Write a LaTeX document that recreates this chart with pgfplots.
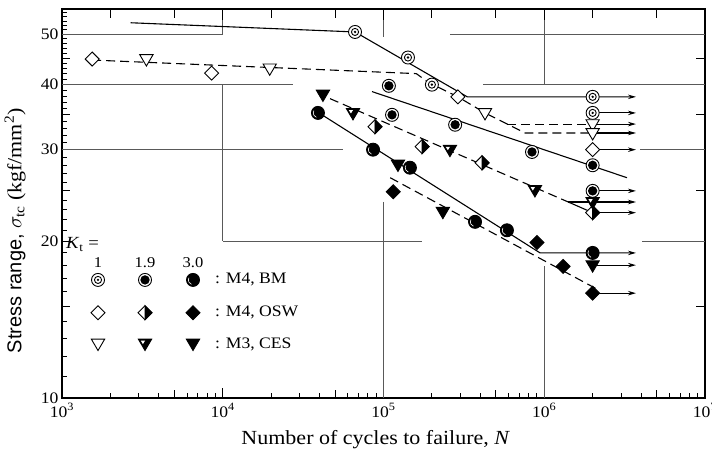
\documentclass[border=0pt]{standalone}
\usepackage{fontspec}
\setmainfont{Liberation Serif}[FakeStretch=1.1]
\newfontfamily\labelsans{Liberation Sans}
\usepackage{pgfplots}
\pgfplotsset{compat=1.18}
\usetikzlibrary{arrows.meta}

% --- plot marks: BM = circles, OSW = diamonds, CES = triangles; A: Kt=1, B: Kt=1.9, C: Kt=3.0
\newcommand\mpt[2]{\pgfpoint{#1\pgfplotmarksize}{#2\pgfplotmarksize}}
\newcommand\diamondpath{%
  \pgfpathmoveto{\mpt{0}{1}}\pgfpathlineto{\mpt{1}{0}}\pgfpathlineto{\mpt{0}{-1}}\pgfpathlineto{\mpt{-1}{0}}\pgfpathclose}
\newcommand\trianglepath{%
  \pgfpathmoveto{\mpt{-0.95}{0.62}}\pgfpathlineto{\mpt{0.95}{0.62}}\pgfpathlineto{\mpt{0}{-1}}\pgfpathclose}
\pgfdeclareplotmark{bmA}{%
  \pgfsetfillcolor{white}%
  \pgfpathcircle{\pgfpointorigin}{\pgfplotmarksize}\pgfusepath{fill,stroke}%
  \pgfpathcircle{\pgfpointorigin}{0.55\pgfplotmarksize}\pgfusepath{stroke}%
  \pgfsetfillcolor{black}%
  \pgfpathcircle{\pgfpointorigin}{0.2\pgfplotmarksize}\pgfusepath{fill}}
\pgfdeclareplotmark{bmB}{%
  \pgfsetfillcolor{white}%
  \pgfpathcircle{\pgfpointorigin}{\pgfplotmarksize}\pgfusepath{fill,stroke}%
  \pgfsetfillcolor{black}%
  \pgfpathcircle{\pgfpointorigin}{0.72\pgfplotmarksize}\pgfusepath{fill}}
\pgfdeclareplotmark{bmC}{%
  \pgfsetfillcolor{black}%
  \pgfpathcircle{\pgfpointorigin}{\pgfplotmarksize}\pgfusepath{fill,stroke}%
  \pgfscope\pgfsetstrokecolor{white}\pgfsetlinewidth{0.6pt}%
  \pgfpathmoveto{\pgfpointpolar{150}{0.72\pgfplotmarksize}}%
  \pgfpatharc{150}{250}{0.72\pgfplotmarksize}\pgfusepath{stroke}%
  \endpgfscope}
\pgfdeclareplotmark{oswA}{%
  \pgfsetfillcolor{white}\diamondpath\pgfusepath{fill,stroke}}
\pgfdeclareplotmark{oswB}{%
  \pgfsetfillcolor{white}\diamondpath\pgfusepath{fill,stroke}%
  \pgfsetfillcolor{black}%
  \pgfpathmoveto{\mpt{0}{1}}\pgfpathlineto{\mpt{1}{0}}\pgfpathlineto{\mpt{0}{-1}}\pgfpathclose
  \pgfusepath{fill,stroke}}
\pgfdeclareplotmark{oswC}{%
  \pgfsetfillcolor{black}\diamondpath\pgfusepath{fill,stroke}}
\pgfdeclareplotmark{cesA}{%
  \pgfsetfillcolor{white}\trianglepath\pgfusepath{fill,stroke}}
\pgfdeclareplotmark{cesB}{%
  \pgfsetfillcolor{black}\trianglepath\pgfusepath{fill,stroke}%
  \pgfsetfillcolor{white}%
  \pgfpathmoveto{\mpt{-0.6}{0.4}}\pgfpathlineto{\mpt{0.0}{0.4}}\pgfpathlineto{\mpt{-0.3}{-0.08}}\pgfpathclose
  \pgfusepath{fill}}
\pgfdeclareplotmark{cesC}{%
  \pgfsetfillcolor{black}\trianglepath\pgfusepath{fill,stroke}}

\newcommand\lmark[2][6.5pt]{\tikz[baseline=-0.6ex]{\pgfsetlinewidth{0.9pt}\pgfsetplotmarksize{#1}\pgfuseplotmark{#2}}}

\tikzset{
  fit line/.style={line width=1.1pt, black},
  fit dash/.style={line width=1.1pt, black, dash pattern=on 9pt off 5pt},
  runout/.style={line width=1.1pt, black, -{Stealth[length=8pt,width=4.5pt]}},
  partgrid/.style={line width=0.8pt, black!65},
  frametick/.style={line width=0.9pt, black},
}

\begin{document}
\begin{tikzpicture}
\begin{axis}[
  scale only axis, width=643pt, height=389pt,
  xmode=log, ymode=log,
  xmin=1e3, xmax=1e7, ymin=10, ymax=55.9,
  clip=false,
  axis line style={line width=1.2pt},
  tick style={line width=0.9pt, black},
  tick pos=left, tick align=inside,
  major tick length=10pt, minor tick length=5pt,
  xtick={1e3,1e4,1e5,1e6,1e7},
  xticklabels={10\textsuperscript{3},10\textsuperscript{4},10\textsuperscript{5},10\textsuperscript{6},10\textsuperscript{7}},
  minor xtick={2e3,3e3,4e3,5e3,6e3,7e3,8e3,9e3,2e4,3e4,4e4,5e4,6e4,7e4,8e4,9e4,
               2e5,3e5,4e5,5e5,6e5,7e5,8e5,9e5,2e6,3e6,4e6,5e6,6e6,7e6,8e6,9e6},
  extra x ticks={5e3,5e4,5e5,5e6}, extra x tick labels={},
  extra x tick style={major tick length=8pt},
  ytick={10,20,30,40,50}, yticklabels={10,20,30,40,50},
  minor ytick={11,12,13,14,15,16,17,18,19,21,22,23,24,25,26,27,28,29,
               31,32,33,34,35,36,37,38,39,41,42,43,44,45,46,47,48,49,51,52,53,54,55},
  extra y ticks={15,25,35,45}, extra y tick labels={},
  extra y tick style={major tick length=8pt},
  ticklabel style={font=\fontsize{16}{18}\selectfont},
  xticklabel style={yshift=-2pt},
  xlabel={Number of cycles to failure, \textit{N}},
  xlabel style={font=\fontsize{20}{22}\selectfont, at={(axis description cs:0.488,-0.108)}, anchor=center},
  ylabel={{\labelsans Stress range,} $\sigma_{\mathrm{tc}}$ (kgf/mm\textsuperscript{2})},
  ylabel style={font=\fontsize{20}{22}\selectfont, at={(axis description cs:-0.073,0.43)}, anchor=center},
]

% partial grid
\draw[partgrid] (axis cs:1e3,50) -- (axis cs:1e4,50);
\draw[partgrid] (axis cs:2.59e5,50) -- (axis cs:1e7,50);
\draw[partgrid] (axis cs:1e3,40) -- (axis cs:2.74e4,40);
\draw[partgrid] (axis cs:4.16e5,40) -- (axis cs:1e7,40);
\draw[partgrid] (axis cs:1e3,30) -- (axis cs:5.6e4,30);
\draw[partgrid] (axis cs:3.95e6,30) -- (axis cs:1e7,30);
\draw[partgrid] (axis cs:1e4,20) -- (axis cs:1.74e5,20);
\draw[partgrid] (axis cs:4.06e6,20) -- (axis cs:1e7,20);
\draw[partgrid] (axis cs:1e4,55.9) -- (axis cs:1e4,50);
\draw[partgrid] (axis cs:1e4,40) -- (axis cs:1e4,20);
\draw[partgrid] (axis cs:1e5,55.9) -- (axis cs:1e5,49.3);
\draw[partgrid] (axis cs:1e5,23.8) -- (axis cs:1e5,10);
\draw[partgrid] (axis cs:1e6,55.9) -- (axis cs:1e6,40);
\draw[partgrid] (axis cs:1e6,17.9) -- (axis cs:1e6,10);

% ticks on the top and right frame
\draw[frametick] (axis cs:2e3,55.9) -- (axis cs:2e3,53.7);
\draw[frametick] (axis cs:5e3,55.9) -- (axis cs:5e3,53.7);
\draw[frametick] (axis cs:1e4,55.9) -- (axis cs:1e4,53.2);
\draw[frametick] (axis cs:2e4,55.9) -- (axis cs:2e4,53.7);
\draw[frametick] (axis cs:5e4,55.9) -- (axis cs:5e4,53.7);
\draw[frametick] (axis cs:1e5,55.9) -- (axis cs:1e5,53.2);
\draw[frametick] (axis cs:2e5,55.9) -- (axis cs:2e5,53.7);
\draw[frametick] (axis cs:5e5,55.9) -- (axis cs:5e5,53.7);
\draw[frametick] (axis cs:1e6,55.9) -- (axis cs:1e6,53.2);
\draw[frametick] (axis cs:2e6,55.9) -- (axis cs:2e6,53.7);
\draw[frametick] (axis cs:5e6,55.9) -- (axis cs:5e6,53.7);
\draw[frametick] (axis cs:1e7,15) -- (axis cs:8.8e6,15);
\draw[frametick] (axis cs:1e7,25) -- (axis cs:8.8e6,25);
\draw[frametick] (axis cs:1e7,35) -- (axis cs:8.8e6,35);
\draw[frametick] (axis cs:1e7,45) -- (axis cs:8.8e6,45);

% S-N lines
\addplot[runout] coordinates {(2670,52.6) (66500,50.5) (332000,37.9) (3.72e6,37.9)};
\addplot[fit dash] coordinates {(1540,44.6) (160000,42.0) (190000,40.4) (290000,37.9) (428000,35.3) (759000,32.3) (2e6,32.3)};
\addplot[runout] coordinates {(2e6,32.3) (3.72e6,32.3)};
\addplot[fit dash] coordinates {(587000,33.6) (2e6,33.6)};
\addplot[runout] coordinates {(2e6,33.6) (3.72e6,33.6)};
\addplot[fit line] coordinates {(84800,38.8) (3.27e6,26.5)};
\addplot[fit dash] coordinates {(46500,37.6) (1.41e6,23.8)};
\addplot[runout] coordinates {(1.41e6,23.8) (3.72e6,23.8)};
\addplot[fit line] coordinates {(1.41e6,23.8) (2e6,22.7)};
\addplot[runout] coordinates {(39700,35.3) (942000,19.0) (3.72e6,19.0)};
\addplot[fit dash] coordinates {(110000,26.5) (2.2e6,16.1)};
% run-outs (no failure)
\addplot[runout] coordinates {(2e6,35.3) (3.72e6,35.3)};
\addplot[runout] coordinates {(2e6,30.0) (3.72e6,30.0)};
\addplot[runout] coordinates {(2e6,25.0) (3.72e6,25.0)};
\addplot[runout] coordinates {(2e6,22.7) (3.72e6,22.7)};
\addplot[runout] coordinates {(2e6,18.0) (3.72e6,18.0)};
\addplot[runout] coordinates {(2e6,15.9) (3.72e6,15.9)};

% test results
\addplot[only marks, mark=bmA, mark size=6.5pt, line width=0.9pt] coordinates {(66500,50.5) (142000,45.1) (200000,40.0) (2e6,37.9) (2e6,35.3)};
\addplot[only marks, mark=oswA, mark size=7pt, line width=0.9pt] coordinates {(1540,44.8) (8530,42.1) (290000,37.9) (2e6,30.0)};
\addplot[only marks, mark=cesA, mark size=7pt, line width=0.9pt] coordinates {(3350,44.8) (19600,43.0) (428000,35.3) (2e6,33.6) (2e6,32.3)};
\addplot[only marks, mark=bmB, mark size=6.5pt, line width=0.9pt] coordinates {(108000,39.8) (113000,35.0) (279000,33.5) (839000,29.7) (2e6,28.0) (2e6,25.0)};
\addplot[only marks, mark=oswB, mark size=7pt, line width=0.9pt] coordinates {(88500,33.2) (174000,30.4) (410000,28.3) (2e6,22.7)};
\addplot[only marks, mark=cesB, mark size=7pt, line width=0.9pt] coordinates {(64600,35.3) (259000,30.0) (875000,25.1) (2e6,23.8)};
\addplot[only marks, mark=bmC, mark size=6.5pt, line width=0.9pt] coordinates {(39100,35.3) (86100,30.0) (146000,27.7) (371000,21.8) (586000,21.0) (2e6,19.0)};
\addplot[only marks, mark=oswC, mark size=7pt, line width=0.9pt] coordinates {(115000,24.9) (901000,19.9) (1.31e6,17.9) (2e6,15.9)};
\addplot[only marks, mark=cesC, mark size=7pt, line width=0.9pt] coordinates {(42000,38.3) (123000,28.1) (234000,22.8) (2e6,18.0)};

% key
\node[anchor=west, font=\fontsize{17}{18}\selectfont, inner sep=0pt] at (axis cs:1059,19.7) {\textit{K}\textsubscript{t} =};
\node[font=\fontsize{15}{16}\selectfont] at (axis cs:1675,18.18) {1};
\node[font=\fontsize{15}{16}\selectfont] at (axis cs:3284,18.18) {1.9};
\node[font=\fontsize{15}{16}\selectfont] at (axis cs:6531,18.18) {3.0};
\node[inner sep=0pt] at (axis cs:1675,16.86) {\lmark{bmA}};
\node[inner sep=0pt] at (axis cs:3284,16.86) {\lmark{bmB}};
\node[inner sep=0pt] at (axis cs:6531,16.86) {\lmark{bmC}};
\node[inner sep=0pt] at (axis cs:1675,14.58) {\lmark[7pt]{oswA}};
\node[inner sep=0pt] at (axis cs:3284,14.58) {\lmark[7pt]{oswB}};
\node[inner sep=0pt] at (axis cs:6531,14.58) {\lmark[7pt]{oswC}};
\node[inner sep=0pt] at (axis cs:1675,12.65) {\lmark[7pt]{cesA}};
\node[inner sep=0pt] at (axis cs:3284,12.65) {\lmark[7pt]{cesB}};
\node[inner sep=0pt] at (axis cs:6531,12.65) {\lmark[7pt]{cesC}};
\node[anchor=west, font=\fontsize{16}{18}\selectfont, inner sep=0pt] at (axis cs:8953,16.86) {: M4, BM};
\node[anchor=west, font=\fontsize{16}{18}\selectfont, inner sep=0pt] at (axis cs:8953,14.58) {: M4, OSW};
\node[anchor=west, font=\fontsize{16}{18}\selectfont, inner sep=0pt] at (axis cs:8953,12.65) {: M3, CES};
\end{axis}
\pgfresetboundingbox
\path[use as bounding box] ([shift={(-62pt,-55pt)}]current axis.south west) rectangle ([shift={(7pt,9pt)}]current axis.north east);
\end{tikzpicture}
\end{document}
